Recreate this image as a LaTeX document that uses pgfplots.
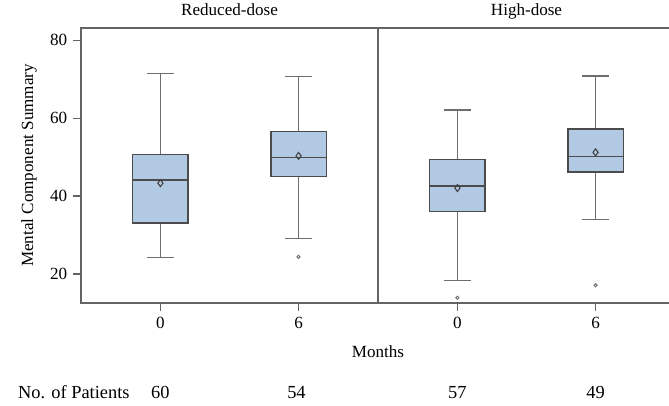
\documentclass[border=0pt]{standalone}
\usepackage{pgfplots}
\pgfplotsset{compat=1.18}
\usepgfplotslibrary{statistics}
\usepackage{fontspec}
\setmainfont{Liberation Serif}
\definecolor{boxfill}{RGB}{178,201,227}
\definecolor{boxedge}{RGB}{75,75,75}
\definecolor{whisk}{RGB}{110,110,110}
\definecolor{frame}{RGB}{100,100,100}
\tikzset{bottomrow/.style={font=\fontsize{13.8}{16}\selectfont}}
\begin{document}
\fontsize{12.5}{15}\selectfont
\begin{tikzpicture}
\pgfplotsset{
  panel/.style={
    width=222.75pt, height=206.25pt, scale only axis,
    xmin=-0.575, xmax=1.575, ymin=12.56, ymax=83.1,
    xtick={0,1}, xticklabels={0,6},
    xtick pos=bottom, ytick pos=left,
    tick align=outside, major tick length=6pt,
    tick style={frame, line width=0.8pt},
    axis line style={frame, line width=1pt},
    /pgf/number format/assume math mode=true,
    clip=false,
    font=\fontsize{12.8}{15}\selectfont,
    title style={at={(0.5,1)}, anchor=base, yshift=3.2pt, inner sep=0pt},
    boxplot/draw direction=y,
    boxplot/box extend=0.4,
    boxplot/whisker extend=0.19,
    boxplot/every box/.style={fill=boxfill, draw=boxedge, line width=1pt},
    boxplot/every median/.style={draw=boxedge, line width=1pt},
    boxplot/every whisker/.style={draw=whisk, line width=1pt},
  },
  bx/.style={draw=whisk, line width=1pt, solid},
  meanpt/.style={only marks, mark=diamond, mark size=2.6pt, mark options={draw=black!75, fill=none, line width=0.8pt}},
  outl/.style={only marks, mark=o, mark size=1.2pt, mark options={draw=whisk, line width=0.7pt}},
}
% ---------- Reduced-dose ----------
\begin{axis}[panel, name=L, at={(0pt,0pt)}, anchor=south west,
  title={Reduced-dose},
  ytick={20,40,60,80},
  ylabel={Mental Component Summary},
  every axis y label/.style={at={(axis description cs:-0.1616,0.5)}, rotate=90, anchor=base},
]
\addplot[bx, boxplot prepared={draw position=0, median=44.1, upper quartile=50.7,
  lower quartile=33.1, upper whisker=71.5, lower whisker=24.2}] coordinates {};
\addplot[bx, boxplot prepared={draw position=1, median=49.8, upper quartile=56.6,
  lower quartile=45.0, upper whisker=70.7, lower whisker=29.1}] coordinates {};
\addplot[outl] coordinates {(1,24.4)};
\addplot[meanpt] coordinates {(0,43.3) (1,50.3)};
\node[anchor=base, yshift=-41.25pt] at (axis description cs:1,0) {Months};
\node[bottomrow, anchor=base west, xshift=-51.5pt, yshift=-72pt] at (axis description cs:0,0) {No. of Patients};
\node[bottomrow, anchor=base] at (axis cs:0,12.56) [yshift=-72pt] {60};
\node[bottomrow, anchor=base] at (axis cs:0.985,12.56) [yshift=-72pt] {54};
\end{axis}
% ---------- High-dose ----------
\begin{axis}[panel, name=R, at={(222.75pt,0pt)}, anchor=south west,
  title={High-dose},
  ytick=\empty,
]
\addplot[bx, boxplot prepared={draw position=0, median=42.6, upper quartile=49.3,
  lower quartile=36.0, upper whisker=62.05, lower whisker=18.3}] coordinates {};
\addplot[bx, boxplot prepared={draw position=1, median=50.2, upper quartile=57.2,
  lower quartile=46.2, upper whisker=70.8, lower whisker=34.0}] coordinates {};
\addplot[outl] coordinates {(0,13.9) (1,17.1)};
\addplot[meanpt] coordinates {(0,42.05) (1,51.2)};
\node[bottomrow, anchor=base] at (axis cs:0,12.56) [yshift=-72pt] {57};
\node[bottomrow, anchor=base] at (axis cs:1,12.56) [yshift=-72pt] {49};
\end{axis}
\pgfresetboundingbox
\path (-60.75pt,-77.25pt) rectangle (441pt,227.25pt);
\end{tikzpicture}
\end{document}
